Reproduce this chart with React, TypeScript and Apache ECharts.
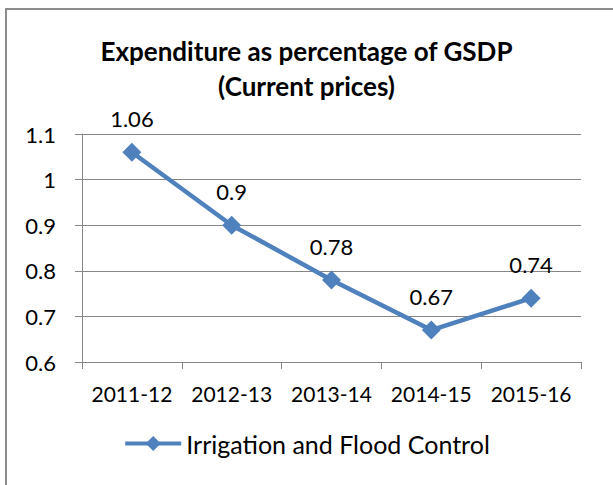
import React, { useEffect, useRef } from "react";
import * as echarts from "echarts";

const categories = ["2011-12", "2012-13", "2013-14", "2014-15", "2015-16"];
const seriesName = "Irrigation and Flood Control";
const values = [1.06, 0.9, 0.78, 0.67, 0.74];
const titleLines = ["Expenditure as percentage of GSDP", "(Current prices)"];

const FONT = "Lato, 'Open Sans', sans-serif";

export default function App() {
  const ref = useRef<HTMLDivElement>(null);
  useEffect(() => {
    const chart = echarts.init(ref.current!, null, { renderer: "svg" });
    chart.setOption({
      animation: false,
      backgroundColor: "#ffffff",
      title: {
        text: titleLines.join("\n"),
        left: "center",
        top: 28,
        textStyle: {
          fontFamily: FONT,
          fontSize: 26,
          fontWeight: "bold",
          color: "#000",
          lineHeight: 35,
        },
      },
      graphic: [
        {
          type: "rect",
          shape: { x: 6, y: 9, width: 620, height: 500 },
          style: { fill: "none", stroke: "#8c8c8c", lineWidth: 2 },
          silent: true,
        },
      ],
      legend: {
        data: [seriesName],
        bottom: 24,
        left: "center",
        itemWidth: 56,
        itemHeight: 19,
        itemGap: 4,
        lineStyle: { width: 4 },
        textStyle: { fontFamily: FONT, fontSize: 25, color: "#000" },
      },
      grid: { left: 82, right: 32, top: 134, bottom: 123 },
      xAxis: {
        type: "category",
        data: categories,
        boundaryGap: true,
        axisLine: { lineStyle: { color: "#868686", width: 1 } },
        axisTick: { show: true, length: 7, alignWithLabel: false, lineStyle: { color: "#868686" } },
        axisLabel: { fontFamily: FONT, fontSize: 21, color: "#000", margin: 21, interval: 0 },
      },
      yAxis: {
        type: "value",
        min: 0.6,
        max: 1.1,
        interval: 0.1,
        axisLine: { show: true, lineStyle: { color: "#868686", width: 1 } },
        axisTick: { show: true, length: 7, lineStyle: { color: "#868686" } },
        splitLine: { lineStyle: { color: "#868686", width: 1 } },
        axisLabel: {
          fontFamily: FONT,
          fontSize: 22,
          color: "#000",
          margin: 26,
          formatter: (v: number) => String(Math.round(v * 10) / 10),
        },
      },
      series: [
        {
          name: seriesName,
          type: "line",
          data: values,
          symbol: "diamond",
          symbolSize: 19,
          itemStyle: { color: "#4f81bd" },
          lineStyle: { color: "#4f81bd", width: 4.5 },
          label: {
            show: true,
            position: "top",
            distance: 13,
            fontFamily: FONT,
            fontSize: 22,
            color: "#000",
          },
        },
      ],
    });
    return () => chart.dispose();
  }, []);
  return (
    <div
      ref={ref}
      style={{ position: "fixed", left: 0, top: 0, width: 613, height: 485 }}
    />
  );
}
